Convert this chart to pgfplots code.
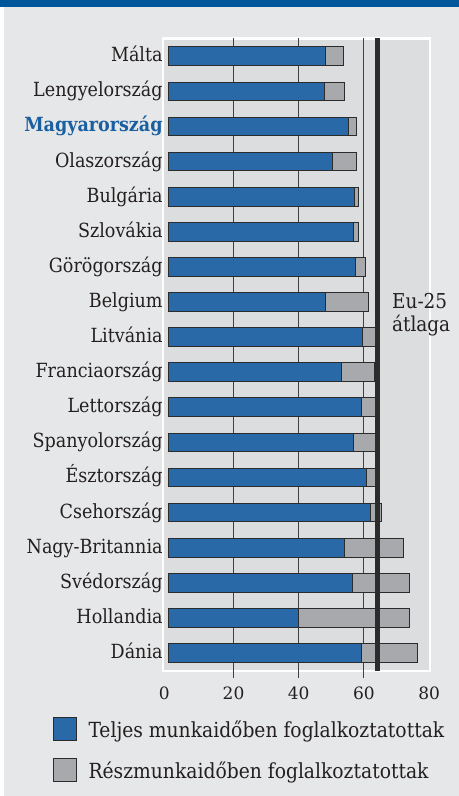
\documentclass[border=0pt]{standalone}
\usepackage{pgfplots}
\pgfplotsset{compat=1.18}
\usepackage{pgfplotstable}
\usepackage{fontspec}
\setmainfont{DejaVu Serif Condensed}[BoldFont={DejaVu Serif Condensed Bold}]
\newfontfamily\numfont{DejaVu Serif}

\definecolor{bgcol}{HTML}{E6E7E8}
\definecolor{panel}{HTML}{DCDDDF}
\definecolor{topblue}{HTML}{00569A}
\definecolor{fullblue}{HTML}{2A69A7}
\definecolor{partgray}{HTML}{A7A9AC}
\definecolor{edge}{HTML}{2B2B2B}
\definecolor{txt}{HTML}{231F20}
\definecolor{hublue}{HTML}{1A5FA0}

% idx 0 = Dánia (bottom) ... 17 = Málta (top)
\pgfplotstableread{
idx full total
0  59.3 76.4
1  40.0 74.0
2  56.4 73.9
3  53.9 72.2
4  62.1 65.5
5  60.8 64.0
6  56.8 63.5
7  59.3 63.4
8  53.0 63.3
9  59.5 63.5
10 48.1 61.5
11 57.5 60.5
12 56.7 58.4
13 57.1 58.3
14 50.4 57.7
15 55.2 57.6
16 48.0 54.0
17 48.3 53.7
}\datatable

\begin{document}
\begin{tikzpicture}
\fill[bgcol] (0,0) rectangle (459bp,796bp);
\fill[white] (0,0) rectangle (4.3bp,789.3bp);
\fill[topblue] (0,789.3bp) rectangle (459bp,796bp);
\begin{axis}[
    at={(163.1bp,125.1bp)}, anchor=south west,
    x=3.26bp, y=35.1bp,
    xmin=-1.6, xmax=80.3, ymin=-0.51, ymax=17.51,
    clip=false,
    axis background/.style={fill=panel},
    axis line style={white, line width=2.4bp},
    major tick length=0pt,
    tick style={draw=black!75, line width=1bp},
    xtick pos=left,
    xtick={-1.2,20,40,60,80},
    xticklabels={0,20,40,60,80},
    extra x ticks={20,40,60},
    extra x tick labels={},
    extra x tick style={grid=major, tick align=outside, major tick length=7.5bp},
    major grid style={draw=black!75, line width=1bp},
    xticklabel style={font=\numfont\fontsize{17bp}{18bp}\selectfont, text=txt, inner sep=0pt, yshift=-16bp},
    ytick={0,...,17},
    yticklabels={Dánia, Hollandia, Svédország, Nagy-Britannia, Csehország,
        Észtország, Spanyolország, Lettország, Franciaország, Litvánia,
        Belgium, Görögország, Szlovákia, Bulgária, Olaszország,
        {\textcolor{hublue}{\bfseries Magyarország}}, Lengyelország, Málta},
    yticklabel style={font=\fontsize{19.5bp}{22bp}\selectfont, text=txt,
        text height=15bp, text depth=4bp, xshift=3bp},
    legend style={at={(axis description cs:-0.4135,-0.0733)}, anchor=north west,
        draw=none, fill=none, inner sep=0pt, row sep=17bp,
        nodes={inner sep=0pt}, column sep=11.7bp,
        font=\fontsize{20.8bp}{22bp}\selectfont, text=txt},
    legend cell align=left,
]
\addplot[xbar, bar width=18.7bp, bar shift=0pt, fill=partgray, draw=edge,
    line width=1bp, forget plot] table[x=total, y=idx] {\datatable};
\addplot[xbar, bar width=18.7bp, bar shift=0pt, fill=fullblue, draw=edge,
    line width=1bp, forget plot] table[x=full, y=idx] {\datatable};
\addplot[draw=edge, line width=5bp, forget plot] coordinates {(64.3,-0.51) (64.3,17.51)};

\addlegendimage{legend image code/.code={\draw[fill=fullblue, draw=edge, line width=1bp] (0bp,-11.5bp) rectangle (23bp,11.5bp);}}
\addlegendentry{Teljes munkaidőben foglalkoztatottak}
\addlegendimage{legend image code/.code={\draw[fill=partgray, draw=edge, line width=1bp] (0bp,-11.5bp) rectangle (23bp,11.5bp);}}
\addlegendentry{Részmunkaidőben foglalkoztatottak}

\node[anchor=north west, align=left, inner sep=0pt, text=txt,
    font=\fontsize{20.5bp}{23bp}\selectfont] at (axis cs:68.6,10.25) {Eu-25\\átlaga};
\end{axis}
\pgfresetboundingbox
\useasboundingbox (0,0) rectangle (459bp,796bp);
\end{tikzpicture}
\end{document}
